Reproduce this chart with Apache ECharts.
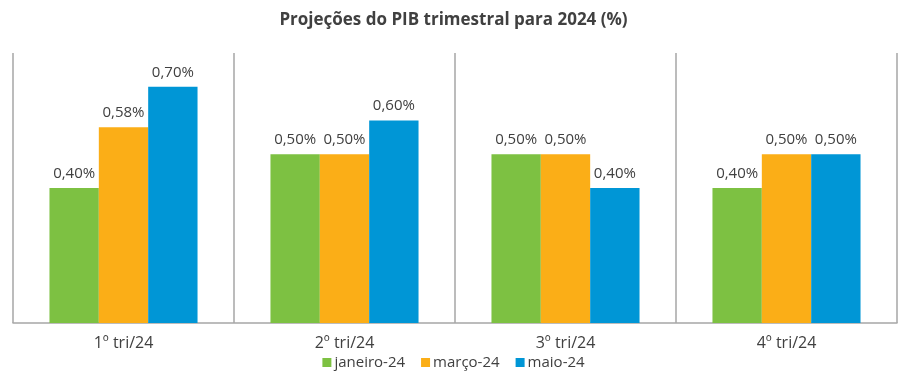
<!DOCTYPE html>
<html><head><meta charset="utf-8">
<script src="https://cdn.jsdelivr.net/npm/echarts@6/dist/echarts.min.js"></script>
<style>html,body{margin:0;padding:0;background:#fff}#c{width:907px;height:387px}</style>
</head><body><div id="c"></div>
<script>
const categories = ['1º tri/24', '2º tri/24', '3º tri/24', '4º tri/24'];
const seriesNames = ['janeiro-24', 'março-24', 'maio-24'];
const janeiro = [0.40, 0.50, 0.50, 0.40];
const marco = [0.58, 0.50, 0.50, 0.50];
const maio = [0.70, 0.60, 0.40, 0.50];
const colors = ['#7DC142', '#FBAE17', '#0096D6'];
const font = '"Open Sans", "Noto Sans", sans-serif';
const chart = echarts.init(document.getElementById('c'));
const lbl = {
  show: true, position: 'top', distance: 7, color: '#404040', fontSize: 15, fontFamily: font,
  formatter: p => p.value.toFixed(2).replace('.', ',') + '%'
};
chart.setOption({
  animation: false,
  title: {
    text: 'Projeções do PIB trimestral para 2024 (%)', left: 'center', top: 7,
    textStyle: { color: '#404040', fontSize: 17, fontWeight: 'bold', fontFamily: font }
  },
  legend: {
    data: seriesNames, bottom: 12, left: 'center', itemWidth: 9, itemHeight: 9, itemGap: 16,
    icon: 'rect', textStyle: { color: '#404040', fontSize: 15, fontFamily: font, padding: [0,0,0,-2] }
  },
  grid: { left: 13, right: 10, top: 53, bottom: 64 },
  xAxis: {
    type: 'category', data: categories,
    axisLine: { lineStyle: { color: '#A6A6A6', width: 1.5 } },
    axisTick: { length: 6, lineStyle: { color: '#A6A6A6', width: 1.5 } },
    splitLine: { show: true, lineStyle: { color: '#A6A6A6', width: 1.5 } },
    axisLabel: { color: '#404040', fontSize: 16, fontFamily: font, margin: 12 }
  },
  yAxis: { type: 'value', min: 0, max: 0.8, show: false, splitLine: { show: false } },
  series: [
    { name: seriesNames[0], type: 'bar', data: janeiro, itemStyle: { color: colors[0] }, barGap: '0%', barCategoryGap: '33%', label: lbl },
    { name: seriesNames[1], type: 'bar', data: marco, itemStyle: { color: colors[1] }, label: lbl },
    { name: seriesNames[2], type: 'bar', data: maio, itemStyle: { color: colors[2] }, label: lbl }
  ]
});
</script></body></html>
